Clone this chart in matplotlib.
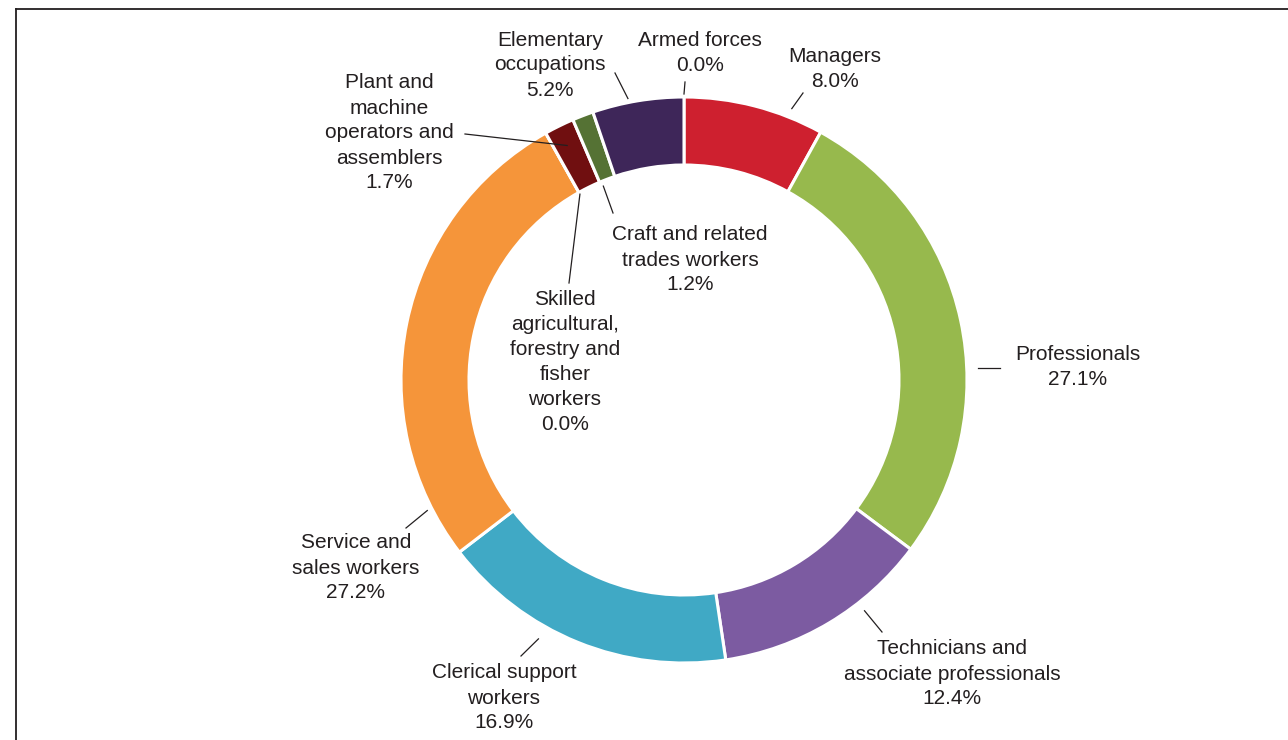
import numpy as np
import matplotlib
matplotlib.use("Agg")
import matplotlib.pyplot as plt
from matplotlib.lines import Line2D

plt.rcParams['font.family'] = ['Liberation Sans', 'DejaVu Sans']

# Employment by occupation group (share of total, %), clockwise from 12 o'clock
categories = [
    "Armed forces",
    "Managers",
    "Professionals",
    "Technicians and\nassociate professionals",
    "Clerical support\nworkers",
    "Service and\nsales workers",
    "Skilled\nagricultural,\nforestry and\nfisher\nworkers",
    "Plant and\nmachine\noperators and\nassemblers",
    "Craft and related\ntrades workers",
    "Elementary\noccupations",
]
shares = [0.0, 8.0, 27.1, 12.4, 16.9, 27.2, 0.0, 1.7, 1.2, 5.2]
colors = ["#CE202F", "#CE202F", "#97B94D", "#7C5BA1", "#40A9C5",
          "#F5953A", "#F5953A", "#700F10", "#557234", "#3E2659"]

W, H = 1288, 740
fig = plt.figure(figsize=(W / 100, H / 100), dpi=100)
ax = fig.add_axes([0, 0, 1, 1])

cx, cy = 684, H - 380
R, ring = 283, 68

wedges, _ = ax.pie(
    shares, colors=colors, startangle=90, counterclock=False,
    radius=R, center=(cx, cy), frame=True,
    wedgeprops=dict(width=ring, edgecolor="white", linewidth=2.2),
)
ax.set_xlim(0, W)
ax.set_ylim(0, H)
ax.set_aspect('equal')
ax.axis('off')

text_color = "#231F20"

# label layout: text centre (pixels from top-left), leader end point,
# anchor position inside the wedge (fraction of its clockwise span) and radius
layout = {
    "Armed forces":  dict(txt=(700, 53), end=(685, 82), frac=0.0, r=286),
    "Managers":      dict(txt=(835, 69), end=(803, 93), frac=0.75, r=292),
    "Professionals": dict(txt=(1078, 367), end=(1000, 366), frac=0.6, r=294, horiz=True),
    "Technicians and\nassociate professionals": dict(txt=(952, 674), end=(882, 632), frac=0.34, r=293),
    "Clerical support\nworkers": dict(txt=(504, 698), end=(521, 656), frac=0.62, r=297),
    "Service and\nsales workers": dict(txt=(356, 568), end=(406, 528), frac=0.107, r=288),
    "Skilled\nagricultural,\nforestry and\nfisher\nworkers": dict(txt=(565, 362), end=(569, 283), frac=0.0, r=213),
    "Plant and\nmachine\noperators and\nassemblers": dict(txt=(389, 133), end=(465, 134), frac=0.45, r=262),
    "Craft and related\ntrades workers": dict(txt=(690, 260), end=(613, 213), frac=0.12, r=210),
    "Elementary\noccupations": dict(txt=(550, 65), end=(615, 73), frac=0.4, r=287),
}

for name, val, w in zip(categories, shares, wedges):
    lay = layout[name]
    t1, t2 = w.theta1, w.theta2
    ang = np.deg2rad(t2 - lay["frac"] * (t2 - t1))
    ax0 = cx + lay["r"] * np.cos(ang)
    ay0 = cy + lay["r"] * np.sin(ang)
    ex, ey = lay["end"]
    ey = H - ey
    if lay.get("horiz"):
        ey = ay0
    ax.add_line(Line2D([ax0, ex], [ay0, ey], color="#231F20", lw=0.9))
    tx, ty = lay["txt"]
    ax.text(tx, H - ty, f"{name}\n{val:.1f}%", ha="center", va="center",
            fontsize=15, color=text_color, linespacing=1.4)

# outer frame (top and left edges)
fig.add_artist(Line2D([16 / W, 1.0], [1 - 9 / H, 1 - 9 / H],
                      transform=fig.transFigure, color="#231F20", lw=1.3))
fig.add_artist(Line2D([16 / W, 16 / W], [0.0, 1 - 9 / H],
                      transform=fig.transFigure, color="#231F20", lw=1.3))

fig.savefig("out.png", dpi=100, facecolor="white")
